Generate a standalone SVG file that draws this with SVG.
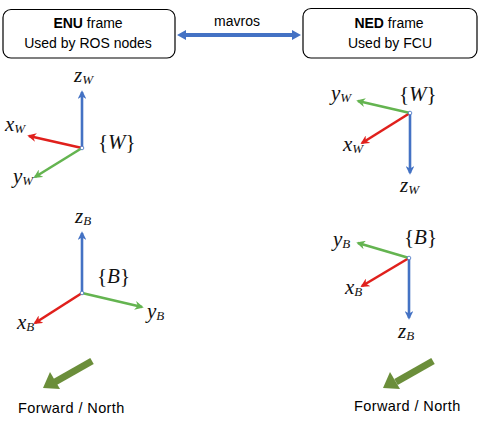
<svg xmlns="http://www.w3.org/2000/svg" width="483" height="424" viewBox="0 0 483 424">
<style>
.box{fill:#fff;stroke:#000;stroke-width:1.2}
.t{font-family:"Liberation Sans",Arial,sans-serif;font-size:14px;fill:#000;text-anchor:middle}
.b{font-weight:bold}
.m{font-family:"Liberation Serif","Times New Roman",serif;font-size:21px;font-style:italic;fill:#111}
.s{font-size:13px}
.n{font-style:normal}
.ax{stroke-width:2.6;fill:none}
.zb{stroke:#4472C4;marker-end:url(#hb)}
.xr{stroke:#E0201C;marker-end:url(#hr)}
.yg{stroke:#64B450;marker-end:url(#hg)}
.fw{font-family:"Liberation Sans",Arial,sans-serif;font-size:14.5px;letter-spacing:0.4px;fill:#000}
</style>
<defs>
<marker id="hb" viewBox="0 0 10 10" refX="8" refY="5" markerWidth="3.4" markerHeight="3.4" orient="auto" markerUnits="strokeWidth"><path d="M0,0 L10,5 L0,10 L3,5 z" fill="#4472C4"/></marker>
<marker id="hr" viewBox="0 0 10 10" refX="8" refY="5" markerWidth="3.4" markerHeight="3.4" orient="auto" markerUnits="strokeWidth"><path d="M0,0 L10,5 L0,10 L3,5 z" fill="#E0201C"/></marker>
<marker id="hg" viewBox="0 0 10 10" refX="8" refY="5" markerWidth="3.4" markerHeight="3.4" orient="auto" markerUnits="strokeWidth"><path d="M0,0 L10,5 L0,10 L3,5 z" fill="#64B450"/></marker>
</defs>

<g id="enu-box">
<rect class="box" x="3" y="9.5" width="172" height="48.5" rx="8"/>
<text class="t" x="88" y="28"><tspan class="b">ENU</tspan> frame</text>
<text class="t" x="88" y="48">Used by ROS nodes</text>
</g>
<g id="ned-box">
<rect class="box" x="303" y="8.5" width="174" height="49.5" rx="8"/>
<text class="t" x="389" y="28"><tspan class="b">NED</tspan> frame</text>
<text class="t" x="390" y="48">Used by FCU</text>
</g>

<g id="connectors">
<text class="t" x="237" y="26">mavros</text>
<path d="M177,35 L186,30 L186,33 L292,33 L292,30 L301,35 L292,40 L292,37 L186,37 L186,40 z" fill="#4472C4"/>
</g>

<g id="enu-world">
<line class="ax zb" x1="82" y1="148" x2="82" y2="92"/>
<line class="ax xr" x1="82" y1="148" x2="29" y2="136"/>
<line class="ax yg" x1="82" y1="148" x2="35" y2="177"/>
<circle cx="82" cy="148" r="1.8" fill="#fff" stroke="#4472C4" stroke-width="0.8"/>
<text class="m" x="74" y="82">z<tspan class="s" dy="2">W</tspan></text>
<text class="m" x="5" y="131">x<tspan class="s" dy="2">W</tspan></text>
<text class="m" x="13" y="183">y<tspan class="s" dy="2">W</tspan></text>
<text class="m" x="98" y="149"><tspan class="n">{</tspan>W<tspan class="n">}</tspan></text>
</g>

<g id="ned-world">
<line class="ax zb" x1="410" y1="113" x2="410" y2="173"/>
<line class="ax xr" x1="410" y1="113" x2="362" y2="143"/>
<line class="ax yg" x1="410" y1="113" x2="358" y2="101"/>
<circle cx="410" cy="113" r="1.8" fill="#fff" stroke="#4472C4" stroke-width="0.8"/>
<text class="m" x="400" y="192">z<tspan class="s" dy="2">W</tspan></text>
<text class="m" x="343" y="151">x<tspan class="s" dy="2">W</tspan></text>
<text class="m" x="331" y="100">y<tspan class="s" dy="2">W</tspan></text>
<text class="m" x="399" y="101"><tspan class="n">{</tspan>W<tspan class="n">}</tspan></text>
</g>

<g id="enu-body">
<line class="ax zb" x1="82" y1="293" x2="82" y2="233"/>
<line class="ax xr" x1="82" y1="293" x2="35" y2="323"/>
<line class="ax yg" x1="82" y1="293" x2="142" y2="307"/>
<circle cx="82" cy="293" r="1.8" fill="#fff" stroke="#4472C4" stroke-width="0.8"/>
<text class="m" x="75" y="223">z<tspan class="s" dy="2">B</tspan></text>
<text class="m" x="17" y="329">x<tspan class="s" dy="2">B</tspan></text>
<text class="m" x="147" y="318">y<tspan class="s" dy="2">B</tspan></text>
<text class="m" x="97" y="283"><tspan class="n">{</tspan>B<tspan class="n">}</tspan></text>
</g>

<g id="ned-body">
<line class="ax zb" x1="409" y1="258" x2="409" y2="318"/>
<line class="ax xr" x1="409" y1="258" x2="362" y2="286"/>
<line class="ax yg" x1="409" y1="258" x2="358" y2="243"/>
<circle cx="409" cy="258" r="1.8" fill="#fff" stroke="#4472C4" stroke-width="0.8"/>
<text class="m" x="398" y="338">z<tspan class="s" dy="2">B</tspan></text>
<text class="m" x="345" y="294">x<tspan class="s" dy="2">B</tspan></text>
<text class="m" x="333" y="246">y<tspan class="s" dy="2">B</tspan></text>
<text class="m" x="404" y="244"><tspan class="n">{</tspan>B<tspan class="n">}</tspan></text>
</g>

<g id="forward-left">
<line x1="92" y1="361" x2="55" y2="382" stroke="#6B8E3A" stroke-width="7"/>
<polygon points="43,388 50,372 60,389" fill="#6B8E3A"/>
<text class="fw" x="18" y="413">Forward / North</text>
</g>
<g id="forward-right">
<line x1="433" y1="361" x2="396" y2="382" stroke="#6B8E3A" stroke-width="7"/>
<polygon points="383,388 390,372 400,389" fill="#6B8E3A"/>
<text class="fw" x="354" y="411">Forward / North</text>
</g>
</svg>
